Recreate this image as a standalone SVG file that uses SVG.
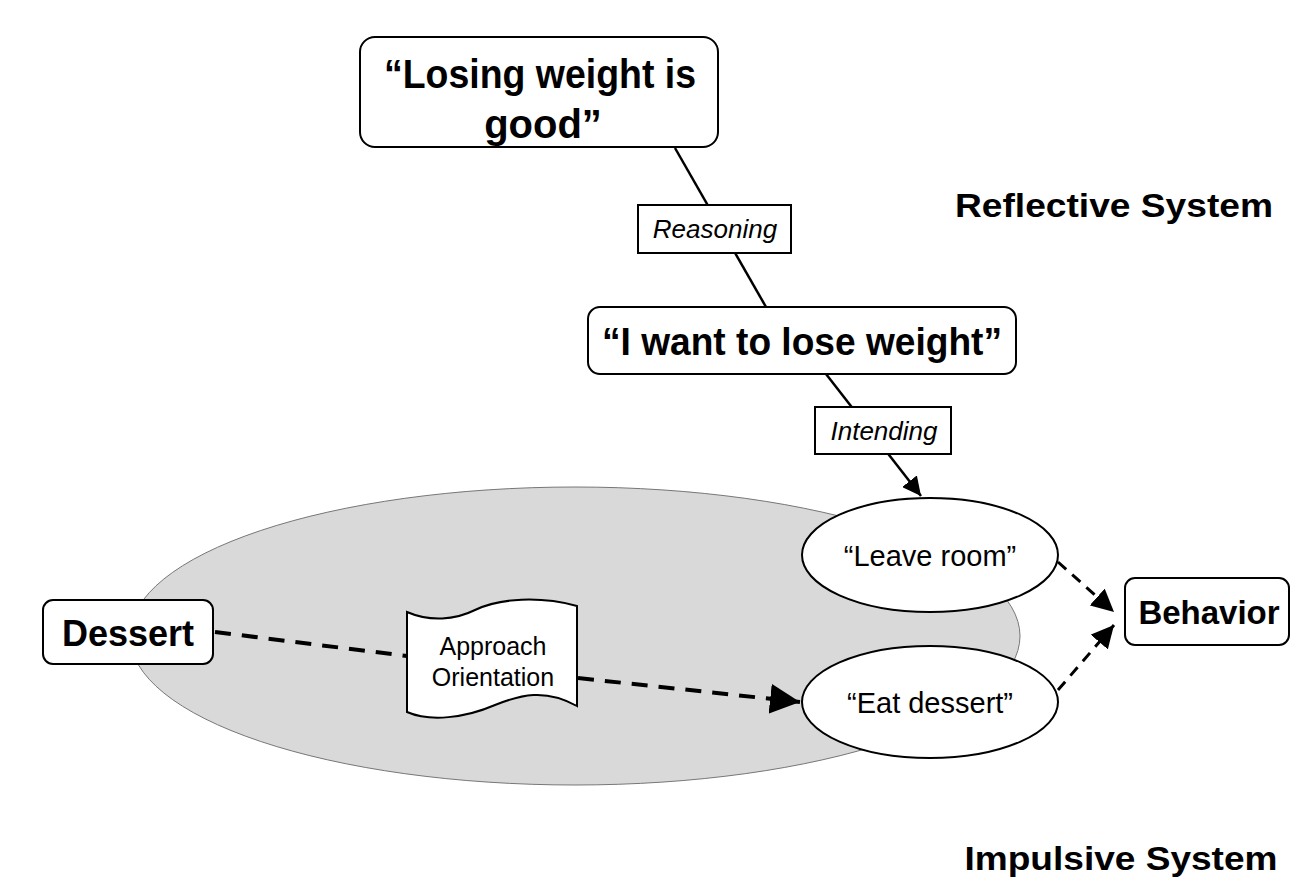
<svg xmlns="http://www.w3.org/2000/svg" width="1312" height="896" viewBox="0 0 1312 896">
<style>
.box{fill:#fff;stroke:#000;stroke-width:2}
.b{font-family:"Liberation Sans",Arial,sans-serif;font-weight:bold;fill:#000;text-anchor:middle}
.r{font-family:"Liberation Sans",Arial,sans-serif;fill:#000;text-anchor:middle}
.i{font-family:"Liberation Sans",Arial,sans-serif;font-style:italic;fill:#000;text-anchor:middle;font-size:26px}
.ln{stroke:#000;stroke-width:2.5;fill:none}
.dash{stroke:#000;stroke-width:3;fill:none;stroke-dasharray:11 8}
.dashb{stroke:#000;stroke-width:4;fill:none;stroke-dasharray:16 11}
</style>
<defs>
<marker id="ahb" viewBox="0 0 10 10" refX="10" refY="5" markerWidth="7.5" markerHeight="7.5" orient="auto">
<path d="M0,0 L10,5 L0,10 z" fill="#000"/>
</marker>
</defs>
<rect width="1312" height="896" fill="#fff"/>
<g id="impulsive-area">
<ellipse cx="575" cy="636" rx="445" ry="149" fill="#d9d9d9" stroke="#777" stroke-width="1"/>
</g>
<g id="connectors">
<line class="ln" x1="675" y1="148" x2="766" y2="307"/>
<line class="ln" x1="826" y1="374" x2="921" y2="496" marker-end="url(#ahb)"/>
<path class="dashb" d="M215,632 L407,656"/>
<path class="dashb" d="M578,678 L800,702" marker-end="url(#ahb)"/>
<path class="dash" d="M1058,562 L1114,612" marker-end="url(#ahb)"/>
<path class="dash" d="M1058,690 L1114,625" marker-end="url(#ahb)"/>
</g>
<g id="losing-weight">
<rect class="box" x="360" y="37" width="358" height="110" rx="15"/>
<text class="b" x="540" y="88" font-size="41" textLength="312" lengthAdjust="spacingAndGlyphs">“Losing weight is</text>
<text class="b" x="543" y="138" font-size="40">good”</text>
</g>
<g id="reasoning">
<rect class="box" x="638" y="205" width="153" height="48" stroke-width="1.5"/>
<text class="i" x="715" y="238">Reasoning</text>
</g>
<g id="want-lose">
<rect class="box" x="588" y="307" width="428" height="67" rx="12"/>
<text class="b" x="802" y="355" font-size="38" textLength="400" lengthAdjust="spacingAndGlyphs">“I want to lose weight”</text>
</g>
<g id="intending">
<rect class="box" x="815" y="407" width="136" height="47" stroke-width="1.5"/>
<text class="i" x="884" y="440">Intending</text>
</g>
<g id="leave-room">
<ellipse cx="930" cy="555" rx="128" ry="57" fill="#fff" stroke="#000" stroke-width="2"/>
<text class="r" x="930" y="566" font-size="29">“Leave room”</text>
</g>
<g id="eat-dessert">
<ellipse cx="930" cy="702" rx="128" ry="56" fill="#fff" stroke="#000" stroke-width="2"/>
<text class="r" x="930" y="713" font-size="29">“Eat dessert”</text>
</g>
<g id="behavior">
<rect class="box" x="1125" y="578" width="164" height="67" rx="10"/>
<text class="b" x="1209" y="624" font-size="33">Behavior</text>
</g>
<g id="dessert">
<rect class="box" x="43" y="600" width="170" height="64" rx="10"/>
<text class="b" x="128" y="646" font-size="36">Dessert</text>
</g>
<g id="approach">
<path d="M407,612 C430,622 455,620 475,610 C500,598 540,596 577,606 L577,706 C545,688 520,695 495,705 C465,718 430,722 407,712 Z" fill="#fff" stroke="#000" stroke-width="2"/>
<text class="r" x="493" y="655" font-size="25">Approach</text>
<text class="r" x="493" y="686" font-size="25">Orientation</text>
</g>
<g id="labels">
<text class="b" x="1114" y="217" font-size="34" textLength="318" lengthAdjust="spacingAndGlyphs">Reflective System</text>
<text class="b" x="1121" y="870" font-size="34" textLength="313" lengthAdjust="spacingAndGlyphs">Impulsive System</text>
</g>
</svg>
